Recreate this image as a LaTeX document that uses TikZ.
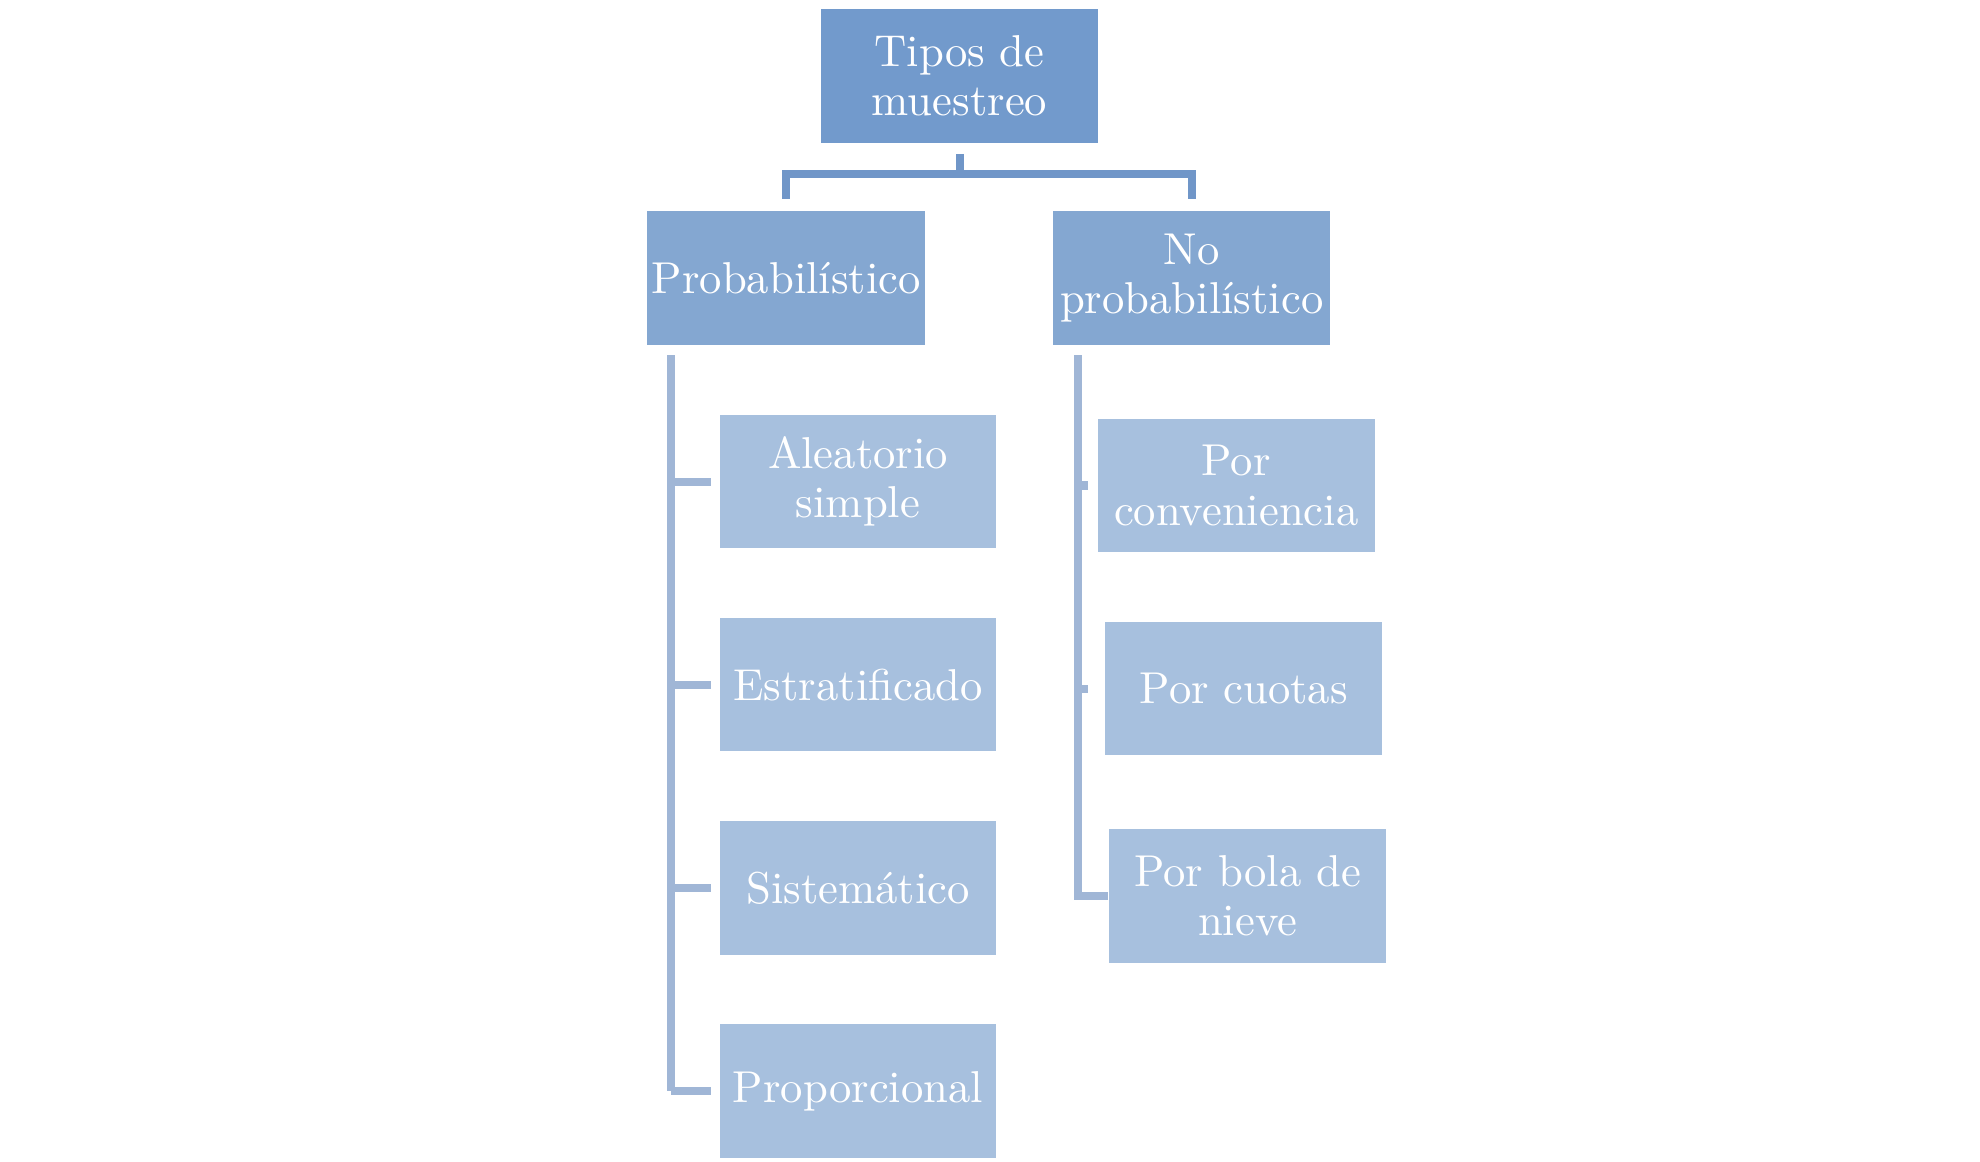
\documentclass[tikz,border=0pt]{standalone}
\usepackage{tikz}
\usetikzlibrary{calc}
\definecolor{topblue}{RGB}{114,154,204}
\definecolor{midblue}{RGB}{132,167,209}
\definecolor{lowblue}{RGB}{167,192,222}
\definecolor{linetop}{RGB}{112,150,200}
\definecolor{lineside}{RGB}{160,182,214}
\tikzset{
    common/.style={rectangle, text=white, align=center, minimum width=2.18cm, minimum height=1.05cm, inner sep=1pt, font=\fontsize{10}{11}\selectfont},
    rootbox/.style={common, fill=topblue},
    groupbox/.style={common, fill=midblue},
    leafbox/.style={common, fill=lowblue},
    tree-top/.style={linetop, line width=1.8pt},
    tree-side/.style={lineside, line width=1.8pt}
}
\begin{document}
\begin{tikzpicture}[x=0.01cm, y=-0.01cm]
    \useasboundingbox (0,0) rectangle (1560,915);
    \node[rootbox] (root) at (756,60) {Tipos de\\muestreo};
    \node[groupbox] (prob) at (619.5,219) {Probabilístico};
    \node[groupbox] (noprob) at (939,219) {No\\probabilístico};

    \node[leafbox] (alea) at (676,379.5) {Aleatorio\\simple};
    \node[leafbox] (estr) at (676,539.5) {Estratificado};
    \node[leafbox] (sist) at (676,699.5) {Sistemático};
    \node[leafbox] (prop) at (676,859.5) {Proporcional};

    \node[leafbox] (conv) at (974,382.5) {Por\\conveniencia};
    \node[leafbox] (cuot) at (980,542.5) {Por cuotas};
    \node[leafbox] (bola) at (983,706) {Por bola de\\nieve};

    \coordinate (pl) at (529,280);
    \coordinate (pr) at (849,280);
    \coordinate (fork) at (756,137);

    \draw[tree-top] ($(root.south)+(0,8)$) -- (fork);
    \draw[tree-top] ($(prob.north)+(0,-9)$) |- (fork) -| ($(noprob.north)+(0,-9)$);

    \foreach \n in {alea,estr,sist,prop}
        \draw[tree-side] (pl |- \n.west) -- ++(31,0);
    \draw[tree-side] (pl) -- (pl |- prop.west);
    \draw[tree-side] (pr) |- (bola.west);
    \draw[tree-side] (pr |- conv.west) -- ++(8,0);
    \draw[tree-side] (pr |- cuot.west) -- ++(8,0);
\end{tikzpicture}
\end{document}
